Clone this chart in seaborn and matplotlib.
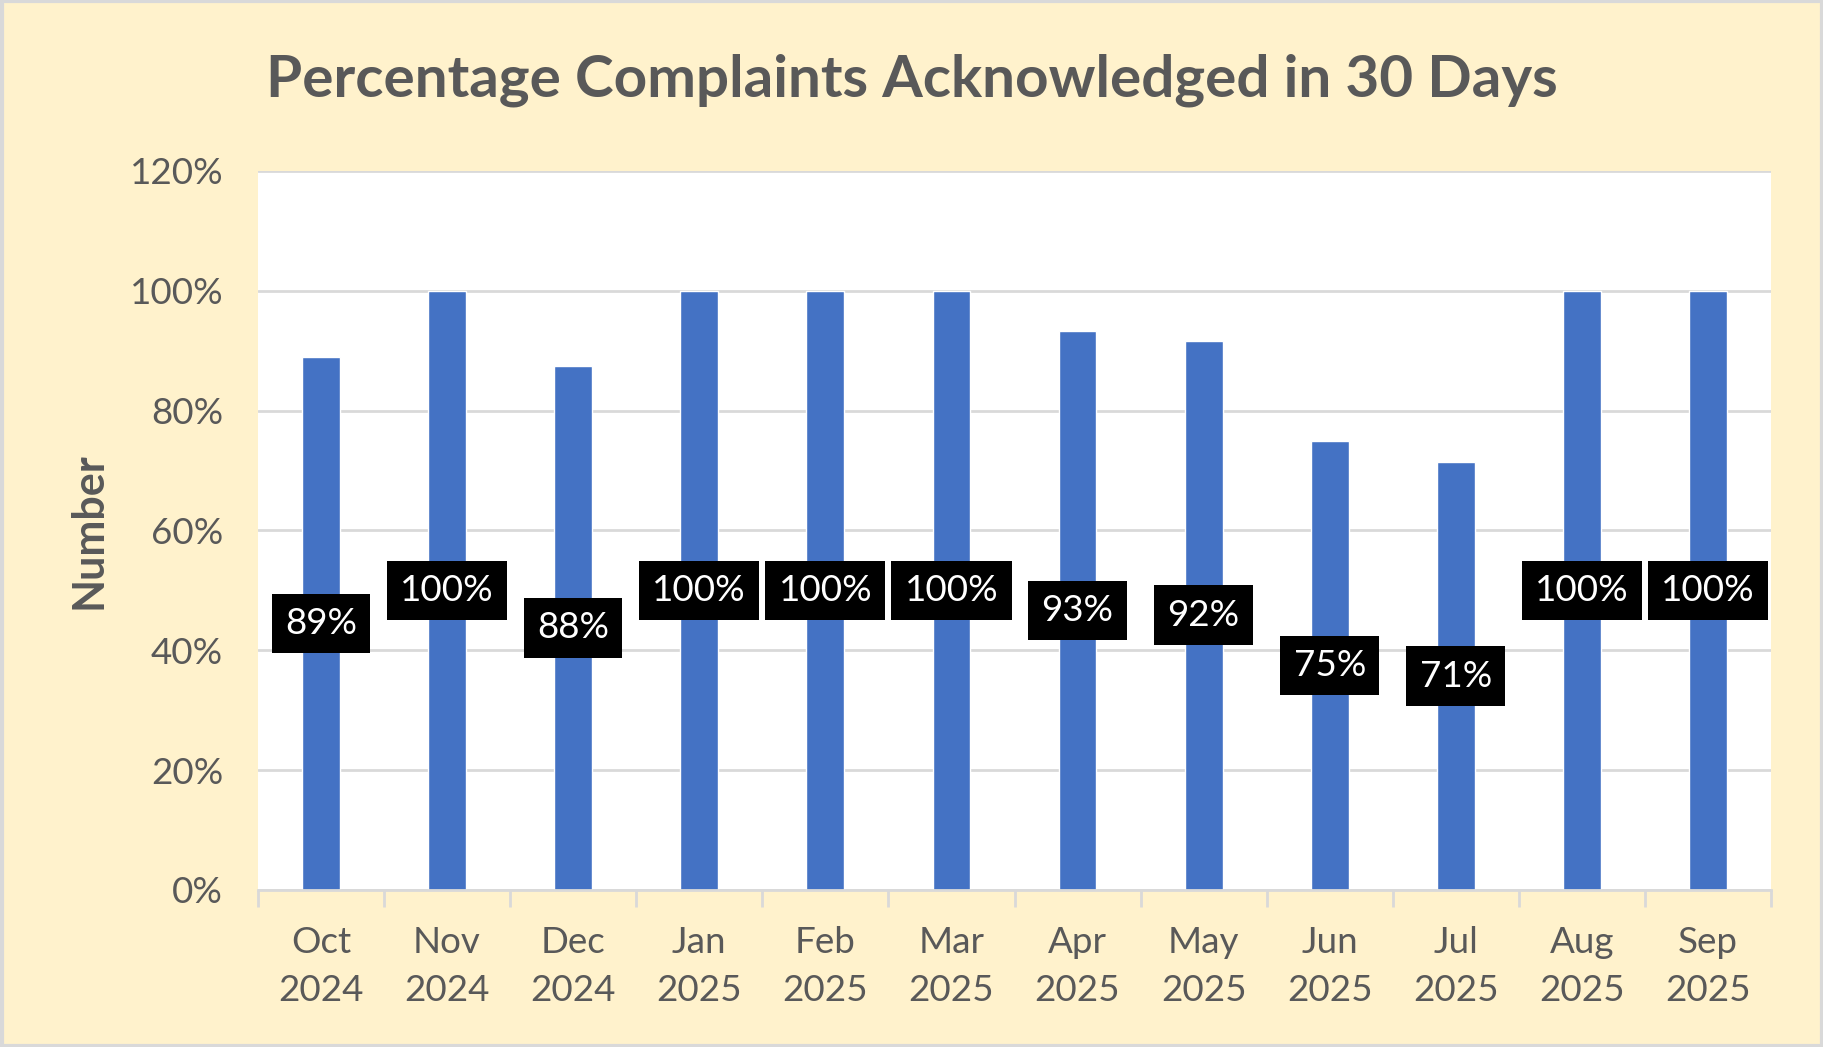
import matplotlib
matplotlib.use("Agg")
import matplotlib.pyplot as plt
import matplotlib.ticker as mt
import seaborn as sns

sns.set_theme(style="white")
plt.rcParams["font.family"] = ["Lato", "DejaVu Sans"]

months = ["Oct", "Nov", "Dec", "Jan", "Feb", "Mar", "Apr", "May", "Jun", "Jul", "Aug", "Sep"]
years = ["2024", "2024", "2024", "2025", "2025", "2025", "2025", "2025", "2025", "2025", "2025", "2025"]
pct = [88.9, 100, 87.5, 100, 100, 100, 93.3, 91.7, 75.0, 71.4, 100, 100]

labels = [f"{m}\n{y}" for m, y in zip(months, years)]

grey = "#595959"
line = "#D9D9D9"

fig = plt.figure(figsize=(18.24, 10.47), dpi=100, facecolor="#FFF2CC")
ax = fig.add_axes([0.1414, 0.150, 0.8296, 0.6867])
ax.set_facecolor("white")

sns.barplot(x=labels, y=pct, color="#4472C4", width=0.3, saturation=1, ax=ax)

for i, v in enumerate(pct):
    ax.text(i, v / 2, f"{round(v)}%", ha="center", va="center", color="white",
            fontsize=26.5, bbox=dict(boxstyle="square,pad=0.36", fc="black", ec="none"))

ax.set_ylim(0, 120)
ax.set_xlim(-0.5, len(pct) - 0.5)
ax.yaxis.set_major_locator(mt.MultipleLocator(20))
ax.yaxis.set_major_formatter(mt.FuncFormatter(lambda v, p: f"{v:.0f}%"))
ax.yaxis.grid(True, color=line, linewidth=2)
ax.set_axisbelow(True)

for s in ["top", "right", "left"]:
    ax.spines[s].set_visible(False)
ax.spines["bottom"].set_color(line)
ax.spines["bottom"].set_linewidth(2)

ax.tick_params(axis="y", length=0, pad=25, labelsize=26.5, labelcolor=grey)
ax.tick_params(axis="x", which="major", length=0, pad=26, labelsize=26.5, labelcolor=grey)
ax.set_xticks([i - 0.5 for i in range(len(pct) + 1)], minor=True)
ax.tick_params(axis="x", which="minor", length=12, width=2, color=line, bottom=True)
for t in ax.get_xticklabels():
    t.set_linespacing(1.55)

ax.set_xlabel("")
ax.set_ylabel("Number", fontsize=31, fontweight="bold", color=grey)
ax.yaxis.set_label_coords(-0.099, 0.5)

fig.text(0.5, 0.923, "Percentage Complaints Acknowledged in 30 Days", ha="center", va="center",
         fontsize=42, fontweight="bold", color=grey)

fig.patches.append(plt.Rectangle((0.001, 0.001), 0.998, 0.998, transform=fig.transFigure,
                                 fill=False, edgecolor=line, linewidth=3))

fig.savefig("out.png", dpi=100, facecolor=fig.get_facecolor())
